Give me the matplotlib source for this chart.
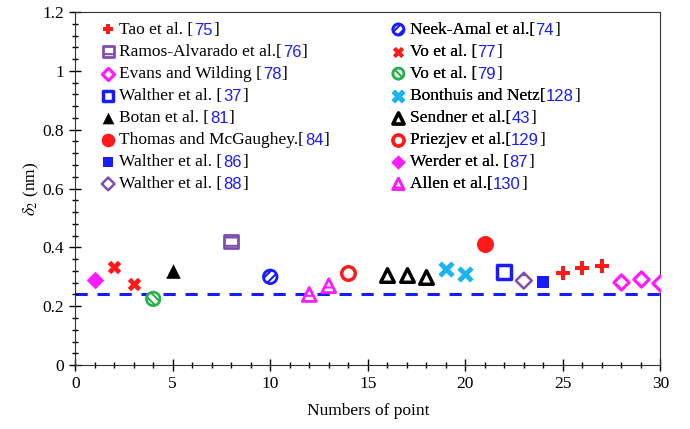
import matplotlib.pyplot as plt
from matplotlib.ticker import MultipleLocator

plt.rcParams['font.family'] = ['Liberation Serif', 'DejaVu Serif']
plt.rcParams['mathtext.fontset'] = 'stix'
plt.rcParams['hatch.linewidth'] = 1.5

# data
tao_x, tao_y = [25, 26, 27], [0.313, 0.330, 0.337]
neek_x, neek_y = [10], [0.300]
ramos_x, ramos_y = [8], [0.420]
vo77_x, vo77_y = [2, 3], [0.333, 0.276]
evans_x, evans_y = [28, 29, 30], [0.283, 0.293, 0.280]
vo79_x, vo79_y = [4], [0.225]
walther37_x, walther37_y = [22], [0.317]
bonthuis_x, bonthuis_y = [19, 20], [0.327, 0.310]
botan_x, botan_y = [5], [0.320]
sendner_x, sendner_y = [16, 17, 18], [0.307, 0.307, 0.300]
thomas_x, thomas_y = [21], [0.410]
priezjev_x, priezjev_y = [14], [0.313]
walther86_x, walther86_y = [24], [0.283]
werder_x, werder_y = [1], [0.290]
walther88_x, walther88_y = [23], [0.287]
allen_x, allen_y = [12, 13], [0.240, 0.270]
ref_line = 0.24

fig = plt.figure(figsize=(6.9, 4.29), dpi=100)
ax = fig.add_axes([0.109, 0.149, 0.848, 0.823])

red = '#ff1a1a'
blue = '#1a1aff'
magenta = '#ff1aff'
purple = '#7f4fb0'
green = '#2bb04d'
cyan = '#1ab4f0'

ax.axhline(ref_line, color=blue, ls=(0, (4, 3.2)), lw=2.2, zorder=1)

s = 95
h_tao = ax.scatter(tao_x, tao_y, marker='P', s=s, color=red, lw=0, zorder=3)
h_neek = ax.scatter(neek_x, neek_y, marker='o', s=s, facecolor='white', edgecolor=blue,
                    lw=2, hatch='////', zorder=3)
h_ramos = ax.scatter(ramos_x, ramos_y, marker='s', s=s, facecolor='white', edgecolor=purple,
                     lw=2, hatch='--', zorder=3)
h_vo77 = ax.scatter(vo77_x, vo77_y, marker='X', s=s, color=red, lw=0, zorder=3)
h_evans = ax.scatter(evans_x, evans_y, marker='D', s=60, facecolor='white', edgecolor=magenta,
                     lw=2.3, zorder=3)
h_vo79 = ax.scatter(vo79_x, vo79_y, marker='o', s=s, facecolor='white', edgecolor=green,
                    lw=2, hatch='\\\\\\\\', zorder=3)
h_w37 = ax.scatter(walther37_x, walther37_y, marker='s', s=s, facecolor='white', edgecolor=blue,
                   lw=2.5, zorder=3)
h_bont = ax.scatter(bonthuis_x, bonthuis_y, marker='x', s=85, color=cyan, lw=3.5, zorder=3)
h_botan = ax.scatter(botan_x, botan_y, marker='^', s=110, color='black', lw=0, zorder=3)
h_send = ax.scatter(sendner_x, sendner_y, marker='^', s=95, facecolor='white', edgecolor='black',
                    lw=2.5, zorder=3)
h_thomas = ax.scatter(thomas_x, thomas_y, marker='o', s=150, color=red, lw=0, zorder=3)
h_priez = ax.scatter(priezjev_x, priezjev_y, marker='o', s=s, facecolor='white', edgecolor=red,
                     lw=2.5, zorder=3)
h_w86 = ax.scatter(walther86_x, walther86_y, marker='s', s=80, color=blue, lw=0, zorder=3)
h_werder = ax.scatter(werder_x, werder_y, marker='D', s=80, color=magenta, lw=0, zorder=3)
h_w88 = ax.scatter(walther88_x, walther88_y, marker='D', s=65, facecolor='white', edgecolor=purple,
                   lw=1.8, hatch='-', zorder=3)
h_allen = ax.scatter(allen_x, allen_y, marker='^', s=100, facecolor='white', edgecolor=magenta,
                     lw=2, hatch='--', zorder=3)

col1 = [(h_tao, 'Tao et al. ', '75'), (h_ramos, 'Ramos-Alvarado et al.', '76'),
        (h_evans, 'Evans and Wilding ', '78'), (h_w37, 'Walther et al. ', '37'),
        (h_botan, 'Botan et al. ', '81'), (h_thomas, 'Thomas and McGaughey.', '84'),
        (h_w86, 'Walther et al. ', '86'), (h_w88, 'Walther et al. ', '88')]
col2 = [(h_neek, 'Neek-Amal et al.', '74'), (h_vo77, 'Vo et al. ', '77'),
        (h_vo79, 'Vo et al. ', '79'), (h_bont, 'Bonthuis and Netz', '128'),
        (h_send, 'Sendner et al.', '43'), (h_priez, 'Priezjev et al.', '129'),
        (h_werder, 'Werder et al. ', '87'), (h_allen, 'Allen et al.', '130')]

fs = 12.5
legends = []
for col, xa in [(col1, 0.046), (col2, 0.542)]:
    leg = ax.legend([c[0] for c in col], [c[1] + '[' for c in col], loc='upper left',
                    bbox_to_anchor=(xa, 0.972), frameon=False, fontsize=fs,
                    handlelength=0.7, handletextpad=0.3, labelspacing=0.34,
                    borderpad=0, borderaxespad=0, scatterpoints=1, markerscale=0.8)
    ax.add_artist(leg)
    legends.append((leg, col))

# blue reference numbers placed after the legend text
fig.canvas.draw()
for leg, col in legends:
    for t, c in zip(leg.get_texts(), col):
        num = ax.annotate(c[2], xy=(1, 0), xycoords=t, xytext=(0.3, 0), textcoords='offset points',
                          ha='left', va='bottom', color=blue, fontsize=fs - 0.5, zorder=7,
                          family=['Liberation Sans', 'DejaVu Sans'])
        ax.annotate(']', xy=(1, 0), xycoords=num, xytext=(0.3, 0), textcoords='offset points',
                    ha='left', va='bottom', color='black', fontsize=fs, zorder=8)

ax.set_xlim(0, 30)
ax.set_ylim(0, 1.2)
ax.xaxis.set_major_locator(MultipleLocator(5))
ax.xaxis.set_minor_locator(MultipleLocator(1))
ax.yaxis.set_major_locator(MultipleLocator(0.2))
ax.yaxis.set_minor_locator(MultipleLocator(0.04))
ax.set_yticks([0, 0.2, 0.4, 0.6, 0.8, 1.0, 1.2])
ax.set_yticklabels(['0', '0.2', '0.4', '0.6', '0.8', '1', '1.2'])
ax.tick_params(which='major', direction='inout', length=9, width=1, labelsize=12.5)
ax.tick_params(which='minor', direction='inout', length=5, width=1)
for sp in ax.spines.values():
    sp.set_color('#333333')

ax.set_xlabel('Numbers of point', fontsize=12.5, labelpad=8)
ax.set_ylabel(r'$\delta_2$ (nm)', fontsize=12.5, labelpad=1)

fig.savefig('out.png', dpi=100)
